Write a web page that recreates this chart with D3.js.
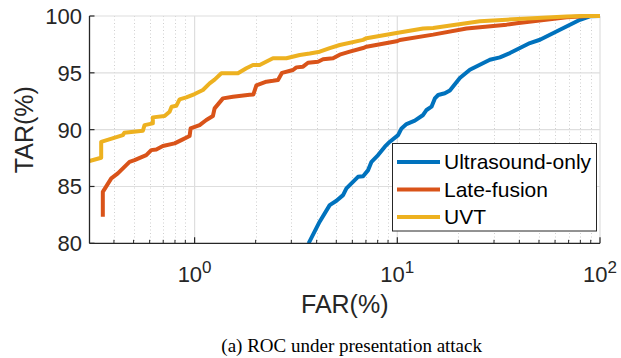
<!DOCTYPE html>
<html>
<head>
<meta charset="utf-8">
<script src="https://cdn.jsdelivr.net/npm/d3@7"></script>
<style>
html, body { margin: 0; padding: 0; background: #fff; }
svg { display: block; font-family: "Liberation Sans", Arial, sans-serif; }
</style>
</head>
<body>
<div id="chart"></div>
<script>
// Series data (FAR %, TAR %)
const seriesNames = ["Ultrasound-only", "Late-fusion", "UVT"];
const seriesColors = ["#0072BD", "#D95319", "#EDB120"];

const farUS = [3.65, 4.14, 4.64, 5.01, 5.40, 5.61, 6.40, 6.78, 7.18, 7.46, 8.04, 8.68, 9.19, 10.09, 10.49, 11.1, 12.2, 13.41, 13.94, 14.75, 15.32, 15.91, 17.16, 18.17, 20.35, 22.8, 25.55, 28.63, 32.08, 35.94, 40.27, 45.11, 50.54, 56.62, 63.44, 71.09, 79.64, 89.2, 100];
const tarUS = [80.0, 81.9, 83.36, 83.74, 84.24, 84.83, 85.85, 85.9, 86.44, 87.17, 87.76, 88.5, 88.94, 89.52, 90.11, 90.49, 90.79, 91.29, 91.73, 92.02, 92.75, 93.05, 93.2, 93.45, 94.54, 95.27, 95.71, 96.15, 96.36, 96.74, 97.18, 97.62, 97.91, 98.35, 98.79, 99.23, 99.67, 99.97, 100];

const farLate = [0.3525, 0.3525, 0.388, 0.418, 0.4775, 0.5054, 0.5774, 0.611, 0.647, 0.6974, 0.7967, 0.8597, 0.9447, 0.9555, 1.0585, 1.1422, 1.231, 1.255, 1.38, 1.546, 1.869, 1.95, 2.017, 2.259, 2.436, 2.578, 2.70, 3.058, 3.178, 3.426, 3.627, 4.064, 4.301, 4.819, 5.2, 5.827, 6.779, 7.046, 9.91, 10.29, 15.02, 21.97, 25.55, 34.62, 38.79, 68.46, 89.2, 100];
const tarLate = [82.33, 84.53, 85.71, 86.15, 87.17, 87.32, 87.76, 88.2, 88.26, 88.56, 88.79, 89.08, 89.44, 90.11, 90.4, 90.85, 91.2, 91.87, 92.75, 92.9, 93.08, 93.1, 93.9, 94.22, 94.3, 94.37, 95.0, 95.25, 95.48, 95.54, 95.89, 95.98, 96.19, 96.28, 96.6, 96.86, 97.18, 97.3, 97.77, 97.89, 98.36, 98.9, 99.0, 99.24, 99.36, 99.88, 100, 100];

const farUVT = [0.303, 0.346, 0.346, 0.4426, 0.45, 0.5556, 0.5663, 0.6222, 0.6222, 0.711, 0.7525, 0.77, 0.812, 0.843, 0.91, 1.0, 1.099, 1.186, 1.255, 1.355, 1.636, 1.8, 1.941, 2.094, 2.436, 2.837, 3.3, 3.698, 4.143, 4.642, 5.2, 6.779, 7.046, 9.91, 13.41, 15.02, 25.55, 34.62, 68.46, 82.4, 100];
const tarUVT = [87.24, 87.53, 88.93, 89.52, 89.73, 89.9, 90.4, 90.55, 91.08, 91.2, 91.58, 92.02, 92.1, 92.67, 92.84, 93.13, 93.49, 94.07, 94.4, 94.96, 94.96, 95.4, 95.69, 95.69, 96.28, 96.28, 96.57, 96.7, 96.86, 97.18, 97.45, 97.9, 98.05, 98.5, 98.9, 98.94, 99.53, 99.68, 99.95, 100, 100];

const allFar = [farUS, farLate, farUVT];
const allTar = [tarUS, tarLate, tarUVT];

// Axis ticks
const xMajorTicks = [1, 10, 100];
const xTickExponents = ["0", "1", "2"];
const yTicks = [80, 85, 90, 95, 100];

// Layout
const width = 621, height = 358;
const plot = { left: 89.5, right: 600, top: 16, bottom: 243.3 };
const axisColor = "#262626";

const svg = d3.select("#chart").append("svg")
    .attr("width", width)
    .attr("height", height);

const xScale = d3.scaleLog()
    .domain([0.303, 100])
    .range([plot.left, plot.right]);

const yScale = d3.scaleLinear()
    .domain([80, 100])
    .range([plot.bottom, plot.top]);

// minor ticks for the log axis
const xMinorTicks = xScale.ticks().filter(t => !xMajorTicks.some(m => Math.abs(m - t) < 1e-9));

// Grid
const grid = svg.append("g");
grid.selectAll(".minor")
    .data(xMinorTicks)
    .enter().append("line")
    .attr("x1", d => Math.round(xScale(d)) + 0.5)
    .attr("x2", d => Math.round(xScale(d)) + 0.5)
    .attr("y1", plot.top)
    .attr("y2", plot.bottom)
    .attr("stroke", "#cfcfcf")
    .attr("stroke-width", 1)
    .attr("stroke-dasharray", "1,2.5");

grid.selectAll(".xmajor")
    .data(xMajorTicks)
    .enter().append("line")
    .attr("x1", d => xScale(d))
    .attr("x2", d => xScale(d))
    .attr("y1", plot.top)
    .attr("y2", plot.bottom)
    .attr("stroke", "#dedede")
    .attr("stroke-width", 1.2);

grid.selectAll(".ymajor")
    .data(yTicks.slice(1))
    .enter().append("line")
    .attr("x1", plot.left)
    .attr("x2", plot.right)
    .attr("y1", d => yScale(d))
    .attr("y2", d => yScale(d))
    .attr("stroke", "#dedede")
    .attr("stroke-width", 1.2);

// Curves
svg.append("clipPath").attr("id", "clip")
    .append("rect")
    .attr("x", plot.left)
    .attr("y", plot.top - 3)
    .attr("width", plot.right - plot.left + 3)
    .attr("height", plot.bottom - plot.top + 3);

const line = d3.line()
    .x(d => xScale(d[0]))
    .y(d => yScale(d[1]));

const curves = svg.append("g").attr("clip-path", "url(#clip)");
seriesNames.forEach((name, i) => {
    const pts = allFar[i].map((f, j) => [f, allTar[i][j]]);
    curves.append("path")
        .datum(pts)
        .attr("d", line)
        .attr("fill", "none")
        .attr("stroke", seriesColors[i])
        .attr("stroke-width", 4)
        .attr("stroke-linejoin", "round");
});

// Axes (ticks pointing inward)
const xAxisG = svg.append("g");
xAxisG.append("line")
    .attr("x1", plot.left).attr("x2", plot.right)
    .attr("y1", plot.bottom).attr("y2", plot.bottom)
    .attr("stroke", axisColor).attr("stroke-width", 1.3);
xAxisG.selectAll(".mt")
    .data(xMinorTicks)
    .enter().append("line")
    .attr("x1", d => xScale(d)).attr("x2", d => xScale(d))
    .attr("y1", plot.bottom).attr("y2", plot.bottom - 3.5)
    .attr("stroke", axisColor).attr("stroke-width", 1);
xAxisG.selectAll(".Mt")
    .data(xMajorTicks)
    .enter().append("line")
    .attr("x1", d => xScale(d)).attr("x2", d => xScale(d))
    .attr("y1", plot.bottom).attr("y2", plot.bottom - 6)
    .attr("stroke", axisColor).attr("stroke-width", 1.2);

const xLabels = xAxisG.selectAll(".xl")
    .data(xMajorTicks)
    .enter().append("text")
    .attr("x", d => xScale(d))
    .attr("y", 282)
    .attr("text-anchor", "middle")
    .attr("fill", axisColor)
    .attr("font-size", 22);
xLabels.append("tspan").text("10");
xLabels.append("tspan")
    .attr("dy", -9)
    .attr("font-size", 17)
    .text((d, i) => xTickExponents[i]);

const yAxisG = svg.append("g");
yAxisG.append("line")
    .attr("x1", plot.left).attr("x2", plot.left)
    .attr("y1", plot.top).attr("y2", plot.bottom)
    .attr("stroke", axisColor).attr("stroke-width", 1.3);
yAxisG.selectAll(".yt")
    .data(yTicks)
    .enter().append("line")
    .attr("x1", plot.left).attr("x2", plot.left + 5)
    .attr("y1", d => yScale(d)).attr("y2", d => yScale(d))
    .attr("stroke", axisColor).attr("stroke-width", 1.2);
yAxisG.selectAll(".yl")
    .data(yTicks)
    .enter().append("text")
    .attr("x", 82)
    .attr("y", d => yScale(d) + 8)
    .attr("text-anchor", "end")
    .attr("fill", axisColor)
    .attr("font-size", 22)
    .text(d => d);

// Axis titles
svg.append("text")
    .attr("x", (plot.left + plot.right) / 2)
    .attr("y", 313)
    .attr("text-anchor", "middle")
    .attr("fill", axisColor)
    .attr("font-size", 25)
    .text("FAR(%)");

svg.append("text")
    .attr("transform", `translate(33, ${(plot.top + plot.bottom) / 2}) rotate(-90)`)
    .attr("text-anchor", "middle")
    .attr("fill", axisColor)
    .attr("font-size", 25)
    .text("TAR(%)");

// Legend
const legend = svg.append("g");
legend.append("rect")
    .attr("x", 392.5).attr("y", 143.5)
    .attr("width", 204).attr("height", 87.5)
    .attr("fill", "#fff")
    .attr("stroke", axisColor)
    .attr("stroke-width", 1);
const legendY = [162, 189.5, 217];
seriesNames.forEach((name, i) => {
    legend.append("line")
        .attr("x1", 397).attr("x2", 440)
        .attr("y1", legendY[i]).attr("y2", legendY[i])
        .attr("stroke", seriesColors[i])
        .attr("stroke-width", 4);
    legend.append("text")
        .attr("x", 444)
        .attr("y", legendY[i] + 7)
        .attr("fill", "#000")
        .attr("font-size", 21)
        .text(name);
});

// Caption
svg.append("text")
    .attr("x", 482)
    .attr("y", 352)
    .attr("text-anchor", "end")
    .attr("font-family", "'Liberation Serif', 'Times New Roman', serif")
    .attr("font-size", 19)
    .attr("fill", "#000")
    .text("(a) ROC under presentation attack");
</script>
</body>
</html>
